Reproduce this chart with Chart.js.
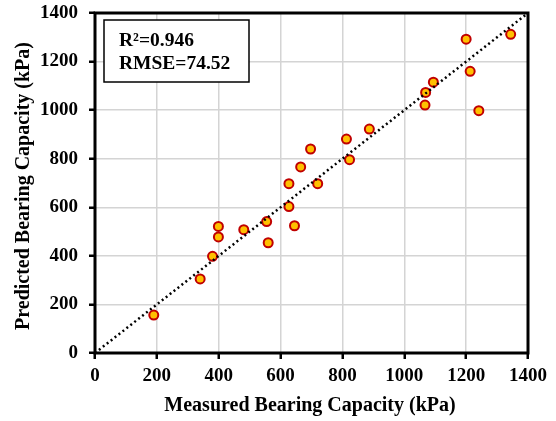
<!DOCTYPE html>
<html>
<head>
<meta charset="utf-8">
<script src="https://cdn.jsdelivr.net/npm/chart.js@4.4.1/dist/chart.umd.min.js"></script>
<style>
  html, body { margin: 0; padding: 0; background: #fff; }
  canvas { display: block; }
</style>
</head>
<body>
<canvas id="c" width="556" height="421"></canvas>
<script>
// Measured vs predicted bearing capacity (kPa)
const measured = [190, 340, 380, 399, 399, 481, 555, 560, 627, 645, 627, 720,
                  665, 697, 813, 823, 887, 1067, 1069, 1094, 1200, 1213, 1241, 1344];
const predicted = [156, 305, 398, 521, 478, 508, 541, 454, 603, 524, 697, 697,
                   766, 840, 881, 796, 922, 1021, 1073, 1115, 1292, 1160, 998, 1312];
const axisTicks = [0, 200, 400, 600, 800, 1000, 1200, 1400];
const equalityLine = [0, 1400];
const statLines = ['R\u00B2=0.946', 'RMSE=74.52'];
const xTitle = 'Measured Bearing Capacity (kPa)';
const yTitle = 'Predicted Bearing Capacity (kPa)';

const serif = "'Liberation Serif', 'Times New Roman', serif";

const points = measured.map((m, i) => ({ x: m, y: predicted[i] }));
const linePts = equalityLine.map(v => ({ x: v, y: v }));

// frame, statistics box and axis titles
const decor = {
  id: 'decor',
  afterDraw(chart) {
    const { ctx, chartArea: a } = chart;
    ctx.save();
    // plot frame
    ctx.strokeStyle = '#000';
    ctx.lineWidth = 3;
    ctx.strokeRect(a.left, a.top, a.right - a.left, a.bottom - a.top);

    // statistics box
    const bx = a.left + 9, by = a.top + 7, bw = 145, bh = 62;
    ctx.fillStyle = '#fff';
    ctx.fillRect(bx, by, bw, bh);
    ctx.lineWidth = 1.5;
    ctx.strokeRect(bx, by, bw, bh);
    ctx.fillStyle = '#000';
    ctx.font = 'bold 19.5px ' + serif;
    ctx.textAlign = 'left';
    ctx.textBaseline = 'alphabetic';
    ctx.fillText(statLines[0], bx + 15, by + 26);
    ctx.fillText(statLines[1], bx + 15, by + 49);

    // axis titles
    ctx.font = 'bold 20px ' + serif;
    ctx.textAlign = 'center';
    ctx.textBaseline = 'middle';
    ctx.fillText(xTitle, 310, 406);
    ctx.translate(24, 186);
    ctx.rotate(-Math.PI / 2);
    ctx.fillText(yTitle, 0, 0);
    ctx.restore();
  }
};

const axisCommon = {
  type: 'linear',
  min: 0,
  max: 1400,
  afterBuildTicks(scale) {
    scale.ticks = axisTicks.map(v => ({ value: v }));
  },
  border: { display: false },
  grid: {
    color: '#d4d4d4',
    lineWidth: 1.5,
    tickColor: '#000',
    tickWidth: 2.5,
    tickLength: 6
  },
  ticks: {
    color: '#000',
    font: { family: serif, size: 19, weight: 'bold' },
    callback: v => String(v)
  }
};

new Chart(document.getElementById('c'), {
  type: 'scatter',
  data: {
    datasets: [
      {
        type: 'line',
        data: linePts,
        borderColor: '#000',
        borderWidth: 2.5,
        borderDash: [2, 3],
        pointRadius: 0,
        fill: false,
        order: 0
      },
      {
        data: points,
        backgroundColor: '#FFC000',
        borderColor: '#C00000',
        borderWidth: 2,
        pointRadius: 4.5,
        order: 1
      }
    ]
  },
  options: {
    responsive: false,
    animation: false,
    layout: { padding: { left: 0, top: 13, right: 28, bottom: 0 } },
    plugins: {
      legend: { display: false },
      tooltip: { enabled: false }
    },
    scales: {
      x: Object.assign({}, axisCommon, {
        position: 'bottom',
        ticks: Object.assign({}, axisCommon.ticks, { padding: 6, maxRotation: 0 }),
        afterFit(scale) {
          scale.height = 68;
          scale.paddingLeft = 0;
          scale.paddingRight = 0;
        }
      }),
      y: Object.assign({}, axisCommon, {
        position: 'left',
        ticks: Object.assign({}, axisCommon.ticks, { padding: 11 }),
        afterFit(scale) {
          scale.width = 95;
          scale.paddingTop = 0;
          scale.paddingBottom = 0;
        }
      })
    }
  },
  plugins: [decor]
});
</script>
</body>
</html>
